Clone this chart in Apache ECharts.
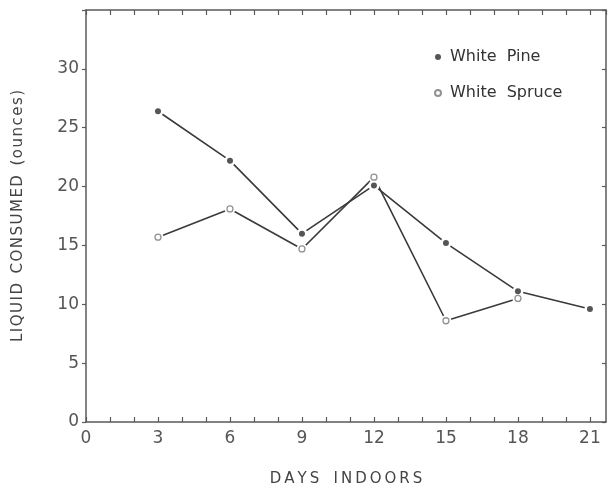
<!DOCTYPE html>
<html>
<head>
<meta charset="utf-8">
<script src="https://cdn.jsdelivr.net/npm/echarts@6/dist/echarts.min.js"></script>
<style>
html,body{margin:0;padding:0;background:#fff;}
#chart{width:608px;height:493px;}
</style>
</head>
<body>
<div id="chart"></div>
<script>
var days = [3, 6, 9, 12, 15, 18, 21];
var whitePine = [26.4, 22.2, 16.0, 20.1, 15.2, 11.1, 9.6];
var whiteSpruceDays = [3, 6, 9, 12, 15, 18];
var whiteSpruce = [15.7, 18.1, 14.7, 20.8, 8.6, 10.5];
var xTickLabels = [0, 3, 6, 9, 12, 15, 18, 21];
var yTickLabels = [0, 5, 10, 15, 20, 25, 30];

function pairs(xs, ys) { return xs.map(function (x, i) { return [x, ys[i]]; }); }
function spaced(s, sep) { return s.split(' ').map(function (w) { return w.split('').join(sep); }).join(' '); }

var axisColor = '#5a5a5a';
var textColor = '#555';
var fontFam = 'DejaVu Sans';
var hair = '\u200A';
var thin = '\u2009';

var chart = echarts.init(document.getElementById('chart'));
chart.setOption({
  backgroundColor: '#fff',
  animation: false,
  grid: { left: 86, top: 10, right: 2, bottom: 71, containLabel: false },
  legend: {
    orient: 'vertical',
    left: 429,
    top: 44,
    itemGap: 20,
    itemWidth: 6,
    itemHeight: 6,
    data: ['White  Pine', 'White  Spruce'],
    textStyle: { fontFamily: fontFam, fontSize: 16, color: '#333', padding: [0, 0, 0, 4] }
  },
  xAxis: [{
    type: 'value', position: 'bottom', min: 0, max: 21.67, interval: 1,
    name: spaced('DAYS   INDOORS', thin), nameLocation: 'middle', nameGap: 50,
    nameTextStyle: { fontFamily: fontFam, fontSize: 15, color: '#444' },
    axisLine: { onZero: false, lineStyle: { color: axisColor, width: 1.5 } },
    axisTick: { inside: true, length: 5, lineStyle: { color: axisColor, width: 1.2 } },
    splitLine: { show: false },
    axisLabel: {
      margin: 8, fontFamily: fontFam, fontSize: 17, color: textColor,
      showMaxLabel: false,
      formatter: function (v) { return xTickLabels.indexOf(v) >= 0 ? String(v) : ''; }
    }
  }, {
    type: 'value', position: 'top', min: 0, max: 21.67, interval: 1,
    axisLine: { show: true, onZero: false, lineStyle: { color: axisColor, width: 1.5 } },
    axisTick: { show: true, inside: true, length: 5, lineStyle: { color: axisColor, width: 1.2 } },
    splitLine: { show: false },
    axisLabel: { show: false }
  }],
  yAxis: [{
    type: 'value', position: 'left', min: 0, max: 35, interval: 5,
    name: spaced('LIQUID  CONSUMED  (ounces)', hair), nameLocation: 'middle', nameGap: 60, nameRotate: 90,
    nameTextStyle: { fontFamily: fontFam, fontSize: 15, color: '#444' },
    axisLine: { show: true, onZero: false, lineStyle: { color: axisColor, width: 1.5 } },
    axisTick: { show: true, inside: false, length: 4, lineStyle: { color: axisColor, width: 1.2 } },
    splitLine: { show: false },
    axisLabel: {
      margin: 7, fontFamily: fontFam, fontSize: 17, color: textColor,
      formatter: function (v) { return yTickLabels.indexOf(v) >= 0 ? String(v) : ''; }
    }
  }, {
    type: 'value', position: 'right', min: 0, max: 35, interval: 5,
    axisLine: { show: true, onZero: false, lineStyle: { color: axisColor, width: 1.5 } },
    axisTick: { show: true, inside: true, length: 4, lineStyle: { color: axisColor, width: 1.2 } },
    splitLine: { show: false },
    axisLabel: { show: false }
  }],
  series: [{
    name: 'pineLine', type: 'line', data: pairs(days, whitePine),
    symbol: 'circle', symbolSize: 11,
    itemStyle: { color: '#fff', borderWidth: 0 },
    lineStyle: { color: '#3a3a3a', width: 1.6 },
    z: 2, silent: true
  }, {
    name: 'spruceLine', type: 'line', data: pairs(whiteSpruceDays, whiteSpruce),
    symbol: 'circle', symbolSize: 11,
    itemStyle: { color: '#fff', borderWidth: 0 },
    lineStyle: { color: '#3a3a3a', width: 1.6 },
    z: 2, silent: true
  }, {
    name: 'White  Pine', type: 'scatter', data: pairs(days, whitePine),
    symbol: 'circle', symbolSize: 6,
    itemStyle: { color: '#2a2a2a' }, z: 4
  }, {
    name: 'White  Spruce', type: 'scatter', data: pairs(whiteSpruceDays, whiteSpruce),
    symbol: 'circle', symbolSize: 6,
    itemStyle: { color: '#fff', borderColor: '#777', borderWidth: 1.3 }, z: 4
  }]
});
</script>
</body>
</html>
